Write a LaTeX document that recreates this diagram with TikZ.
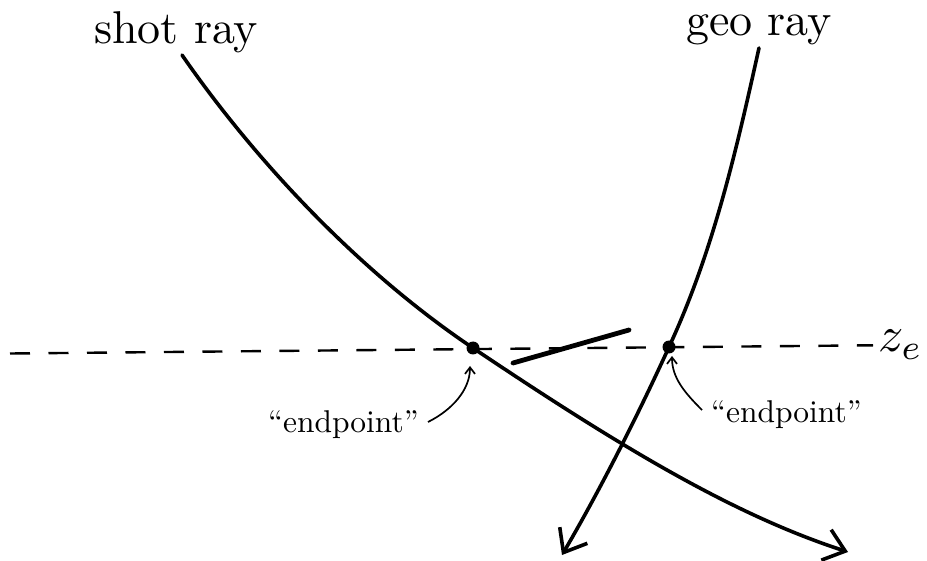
\documentclass[tikz,border=0pt]{standalone}
\usetikzlibrary{arrows.meta}
\begin{document}
\begin{tikzpicture}[x=1pt,y=-1pt,
  ray/.style={line width=3.6pt, line cap=round, -{Straight Barb[length=20pt,width=32pt,line width=3.6pt]}},
  pointer/.style={line width=1.7pt, -{Straight Barb[length=6.5pt,width=10pt,line width=1.7pt]}},
  txt/.style={inner sep=0pt, anchor=base west},
  level/.style={line width=2.4pt, dash pattern=on 20pt off 18.5pt},
  dotmark/.style={circle, fill=black, inner sep=0pt, minimum size=13pt}
]
\useasboundingbox (0,0) rectangle (927,561);

% coordinates
\coordinate (lvA) at (10,353.5);
\coordinate (lvB) at (873,345.3);
\coordinate (epS) at (473,348);
\coordinate (epG) at (669,347);
\coordinate (tgA) at (513,363);
\coordinate (tgB) at (629,330);
\coordinate (shotTop) at (182,55);
\coordinate (shotEnd) at (848,552);
\coordinate (geoTop) at (759,48);
\coordinate (geoEnd) at (562,555);

% labels
\node[txt] (shotlabel) at (94,44) {\scalebox{4.6}{shot ray}};
\node[txt] (geolabel) at (686,36) {\scalebox{4.6}{geo ray}};
\node[txt] (zlabel) at (878,352) {\scalebox{5}{$z_e$}};
\node[txt] (eplabelL) at (268,432) {\scalebox{3.15}{“endpoint”}};
\node[txt] (eplabelR) at (711,422) {\scalebox{3.15}{“endpoint”}};

% level line
\draw[level] (lvA) -- (lvB);

% rays
\draw[ray] (shotTop) .. controls (256,162) and (361,273) .. (epS)
                     .. controls (622,448) and (734,515) .. (shotEnd);
\draw[ray] (geoTop) .. controls (736,152) and (713,252) .. (epG)
                    .. controls (638,415) and (600,490) .. (geoEnd);

% tangent segment
\draw[line width=4.8pt, line cap=round] (tgA) -- (tgB);

% endpoints
\node[dotmark] (dotS) at (epS) {};
\node[dotmark] (dotG) at (epG) {};

% pointers
\coordinate (pLs) at (428,422);
\coordinate (pLe) at (470,366);
\coordinate (pRs) at (702,410);
\coordinate (pRe) at (672,356);
\draw[pointer] (pLs) .. controls (452,410) and (470,390) .. (pLe);
\draw[pointer] (pRs) .. controls (685,393) and (672,378) .. (pRe);
\end{tikzpicture}
\end{document}
